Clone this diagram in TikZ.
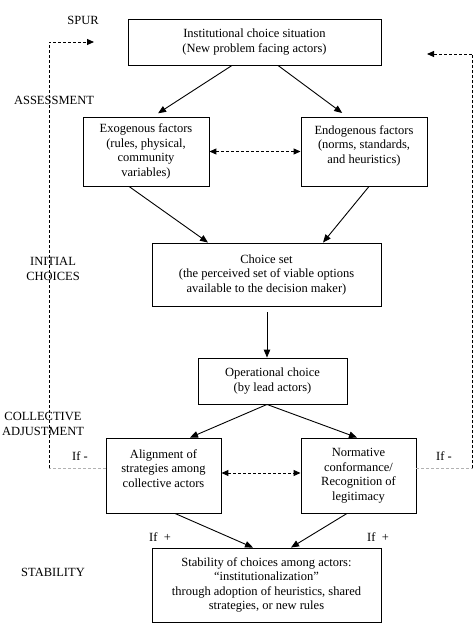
\documentclass[tikz,border=0pt]{standalone}
\usepackage{fontspec}
\setmainfont{Liberation Serif}
\usetikzlibrary{arrows.meta,calc}
\begin{document}
\begin{tikzpicture}[x=1pt,y=-1pt,
  every node/.style={font=\fontsize{12.5}{14.5}\selectfont, inner sep=0pt, align=center},
  box/.style={draw, line width=0.9pt, minimum width=#1, anchor=center},
  flow/.style={line width=0.9pt, -{Triangle[length=8pt,width=6.5pt]}},
  dflow/.style={line width=1pt, dash pattern=on 3pt off 2pt, {Triangle[length=7pt,width=6pt]}-{Triangle[length=7pt,width=6pt]}},
  loopblack/.style={line width=1pt, dash pattern=on 3pt off 2pt},
  loopgray/.style={line width=1pt, dash pattern=on 3pt off 2pt, gray!60},
  lab/.style={anchor=center}
]
\useasboundingbox (0,0) rectangle (474,635);
\fill[white] (0,0) rectangle (474,635);

% stage labels
\node[lab] (spur) at (83,20) {SPUR};
\node[lab] (assess) at (54,100) {ASSESSMENT};
\node[lab] (initial) at (53,269) {INITIAL\\CHOICES};
\node[lab] (collective) at (43,424) {COLLECTIVE\\ADJUSTMENT};
\node[lab] (stability) at (53,572) {STABILITY};

% boxes
\node[box=253pt, minimum height=46pt] (top) at (254.5,42) {Institutional choice situation\\(New problem facing actors)};
\node[box=126pt, minimum height=69pt] (exo) at (146,151.5) {Exogenous factors\\(rules, physical,\\community\\variables)};
\node[box=126pt, minimum height=69pt] (endo) at (364,151.5) {Endogenous factors\\(norms, standards,\\and heuristics)\\\mbox{}};
\node[box=229pt, minimum height=63pt] (choice) at (266.5,274.5) {Choice set\\(the perceived set of viable options\\available to the decision maker)};
\node[box=149pt, minimum height=46pt] (oper) at (272.5,381) {Operational choice\\(by lead actors)};
\node[box=115pt, minimum height=75pt] (align) at (163.5,475.5) {Alignment of\\strategies among\\collective actors\\\mbox{}};
\node[box=115pt, minimum height=75pt] (norm) at (358.5,475.5) {Normative\\conformance/\\Recognition of\\legitimacy};
\node[box=229pt, minimum height=74pt] (stab) at (266.5,585) {Stability of choices among actors:\\\textquotedblleft institutionalization\textquotedblright\\through adoption of heuristics, shared\\strategies, or new rules};

% if labels
\node[lab] (ifml) at (80,456) {If -};
\node[lab] (ifmr) at (444,456) {If -};
\node[lab] (ifpl) at (160,537) {If\ \ +};
\node[lab] (ifpr) at (378,537) {If\ \ +};

% solid arrows
\draw[flow, shorten >=6pt] ([xshift=-22.5pt]top.south) -- ([xshift=7pt]exo.north);
\draw[flow, shorten >=6pt] ([xshift=23.5pt]top.south) -- ([xshift=-17pt]endo.north);
\draw[flow] ([xshift=-17pt]exo.south) -- ([xshift=-58.5pt]choice.north);
\draw[flow] ([xshift=5pt]endo.south) -- ([xshift=56.5pt]choice.north);
\draw[flow, shorten <=6pt] ([xshift=0.5pt]choice.south) -- ([xshift=-5.5pt]oper.north);
\draw[flow] ([xshift=-5.5pt]oper.south) -- ([xshift=26.5pt]align.north);
\draw[flow] ([xshift=-5.5pt]oper.south) -- ([xshift=-1.5pt]norm.north);
\draw[flow] ([xshift=11.5pt]align.south) -- ([xshift=-13.5pt]stab.north);
\draw[flow] ([xshift=-11.5pt]norm.south) -- ([xshift=24.5pt]stab.north);

% dashed double arrows
\draw[dflow] (exo.east) -- (endo.west);
\draw[dflow] ([yshift=2.5pt]align.east) -- ([yshift=2.5pt]norm.west);

% feedback loops
\coordinate (lcb) at (49,468);
\coordinate (lct) at (49,42);
\coordinate (lend) at (94,42);
\coordinate (rcb) at (472.5,468);
\coordinate (rct) at (472.5,54);
\coordinate (rend) at (427,54);
\draw[loopgray] ([yshift=7.5pt]align.west) -- (lcb);
\draw[loopblack, -{Triangle[length=7pt,width=6pt]}] (lcb) -- (lct) -- (lend);
\draw[loopgray] ([yshift=7.5pt]norm.east) -- (rcb);
\draw[loopblack, -{Triangle[length=7pt,width=6pt]}] (rcb) -- (rct) -- (rend);
\end{tikzpicture}
\end{document}
